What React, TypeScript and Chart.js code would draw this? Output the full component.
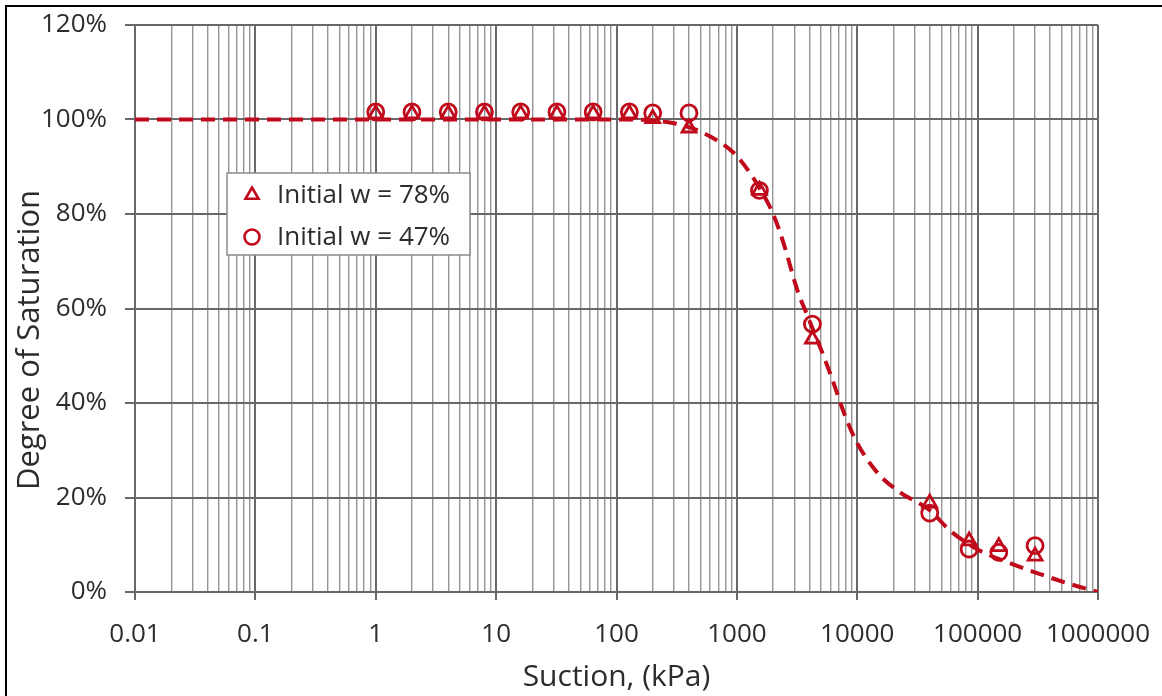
import React, { useEffect, useRef } from 'react';
import { Chart, registerables } from 'chart.js';

Chart.register(...registerables);

// ---- Data ----
const suctionKPa = [1, 2, 4, 8, 16, 32, 64, 128, 200, 400, 1540, 4240, 40000, 85000, 150000, 300000];
const saturationW78 = [101.2, 101.2, 101.2, 101.2, 101.2, 101.2, 101.2, 101.2, 100.2, 98.2, 85, 53.5, 18.8, 10.8, 9.6, 7.6];
const saturationW47 = [101.6, 101.6, 101.6, 101.6, 101.6, 101.6, 101.6, 101.6, 101.4, 101.4, 85, 56.7, 16.7, 9.1, 8.4, 9.8];

const fitSuction = [0.01, 1, 100, 200, 400, 600, 935, 1220, 1540, 2000, 2430, 3170, 3920, 5240, 6200, 8000, 10000, 15000, 23000, 40000, 59000, 100000, 190000, 330000, 550000, 1000000];
const fitSaturation = [100, 100, 100, 99.8, 98.4, 96.4, 93, 89.5, 85.5, 80, 74, 64, 58, 50, 45, 37, 31.5, 25, 21, 17.3, 13, 9, 6, 3.8, 1.9, 0];

const xDecadeExponents = [-2, -1, 0, 1, 2, 3, 4, 5];
const xMinorMultipliers = [1, 2, 3, 4, 5, 6, 7, 8, 9];
const xMin = 0.01;
const xMax = 1000000;
const yTickValues = [0, 20, 40, 60, 80, 100, 120];

const legendLabels = ['Initial w = 78%', 'Initial w = 47%'];
const xTitle = 'Suction, (kPa)';
const yTitle = 'Degree of Saturation';

// ---- Style ----
const RED = '#c00a1c';
const FONT = "'Open Sans', 'Noto Sans', sans-serif";
const TEXT = '#2c2c2c';
const MAJOR_GRID = '#686868';
const MINOR_GRID = '#959595';

const xTickValues: number[] = [];
for (const e of xDecadeExponents) {
  for (const m of xMinorMultipliers) {
    xTickValues.push(Number((m * Math.pow(10, e)).toPrecision(10)));
  }
}
xTickValues.push(xMax);

function isPow10(v: number): boolean {
  const l = Math.log10(v);
  return Math.abs(l - Math.round(l)) < 1e-9;
}
function fmtX(v: number): string {
  const e = Math.round(Math.log10(v));
  return e < 0 ? v.toFixed(-e) : String(Math.round(v));
}

const legendPlugin = {
  id: 'boxLegend',
  afterDraw(chart: any) {
    const ctx = chart.ctx as CanvasRenderingContext2D;
    const left = 227, top = 173, w = 243, h = 82;
    ctx.save();
    ctx.fillStyle = '#ffffff';
    ctx.fillRect(left, top, w, h);
    ctx.strokeStyle = '#8a8a8a';
    ctx.lineWidth = 1.5;
    ctx.strokeRect(left, top, w, h);
    const rows = [195, 237];
    ctx.font = `26px ${FONT}`;
    ctx.textBaseline = 'middle';
    ctx.textAlign = 'left';
    rows.forEach((ry, i) => {
      ctx.strokeStyle = RED;
      ctx.lineWidth = 2.6;
      const mx = 252;
      ctx.beginPath();
      if (i === 0) {
        const r = 7.5;
        let rad = 0;
        ctx.moveTo(mx + Math.sin(rad) * r, ry - Math.cos(rad) * r);
        rad += (2 * Math.PI) / 3;
        ctx.lineTo(mx + Math.sin(rad) * r, ry - Math.cos(rad) * r);
        rad += (2 * Math.PI) / 3;
        ctx.lineTo(mx + Math.sin(rad) * r, ry - Math.cos(rad) * r);
        ctx.closePath();
      } else {
        ctx.arc(mx, ry, 7.5, 0, Math.PI * 2);
      }
      ctx.stroke();
      ctx.fillStyle = TEXT;
      ctx.fillText(legendLabels[i], 277, ry + 1);
    });
    ctx.restore();
  },
};

const yTitlePlugin = {
  id: 'yTitle',
  afterDraw(chart: any) {
    const ctx = chart.ctx as CanvasRenderingContext2D;
    ctx.save();
    ctx.translate(30, 340);
    ctx.rotate(-Math.PI / 2);
    ctx.font = `31px ${FONT}`;
    ctx.fillStyle = TEXT;
    ctx.textAlign = 'center';
    ctx.textBaseline = 'middle';
    ctx.fillText(yTitle, 0, 0);
    ctx.restore();
  },
};

export default function App() {
  const canvasRef = useRef<HTMLCanvasElement | null>(null);

  useEffect(() => {
    if (!canvasRef.current) return;
    const chart = new Chart(canvasRef.current, {
      type: 'scatter',
      data: {
        datasets: [
          {
            label: legendLabels[0],
            data: suctionKPa.map((s, i) => ({ x: s, y: saturationW78[i] })),
            pointStyle: 'triangle',
            pointRadius: 8,
            pointBorderWidth: 2.8,
            borderColor: RED,
            backgroundColor: 'rgba(0,0,0,0)',
            showLine: false,
          },
          {
            label: legendLabels[1],
            data: suctionKPa.map((s, i) => ({ x: s, y: saturationW47[i] })),
            pointStyle: 'circle',
            pointRadius: 8,
            pointBorderWidth: 2.8,
            borderColor: RED,
            backgroundColor: 'rgba(0,0,0,0)',
            showLine: false,
          },
          {
            label: 'fit',
            data: fitSuction.map((s, i) => ({ x: s, y: fitSaturation[i] })),
            showLine: true,
            pointRadius: 0,
            borderColor: RED,
            backgroundColor: RED,
            borderWidth: 4,
            borderDash: [14, 8],
            cubicInterpolationMode: 'monotone',
            fill: false,
          } as any,
        ],
      },
      options: {
        responsive: false,
        animation: false,
        devicePixelRatio: 1,
        layout: { padding: { top: 25, right: 64, left: 0, bottom: 0 } },
        plugins: { legend: { display: false }, tooltip: { enabled: false } },
        scales: {
          x: {
            type: 'logarithmic',
            min: xMin,
            max: xMax,
            afterBuildTicks: (s: any) => {
              s.ticks = xTickValues.map((v) => ({ value: v, major: isPow10(v) }));
            },
            afterFit: (s: any) => {
              s.height = 104;
              s.paddingLeft = 0;
              s.paddingRight = 0;
            },
            ticks: {
              autoSkip: false,
              maxRotation: 0,
              minRotation: 0,
              padding: 19,
              color: TEXT,
              font: { family: FONT, size: 26 },
              callback: (v: any) => (isPow10(Number(v)) ? fmtX(Number(v)) : ''),
            },
            grid: {
              color: (c: any) => (c.tick && isPow10(c.tick.value) ? MAJOR_GRID : MINOR_GRID),
              lineWidth: (c: any) => (c.tick && isPow10(c.tick.value) ? 2 : 1.4),
              tickLength: 8,
              tickColor: (c: any) => (c.tick && isPow10(c.tick.value) ? MAJOR_GRID : 'rgba(0,0,0,0)'),
            },
            border: { color: MAJOR_GRID, width: 2 },
            title: {
              display: true,
              text: xTitle,
              color: TEXT,
              font: { family: FONT, size: 30 },
              padding: { top: 0, bottom: 1 },
            },
          },
          y: {
            min: 0,
            max: 120,
            afterBuildTicks: (s: any) => {
              s.ticks = yTickValues.map((v) => ({ value: v }));
            },
            afterFit: (s: any) => {
              s.width = 135;
              s.paddingTop = 0;
              s.paddingBottom = 0;
            },
            ticks: {
              padding: 18,
              color: TEXT,
              font: { family: FONT, size: 26 },
              callback: (v: any) => `${v}%`,
            },
            grid: { color: MAJOR_GRID, lineWidth: 2, tickLength: 10, tickColor: MAJOR_GRID },
            border: { color: MAJOR_GRID, width: 2 },
          },
        },
      },
      plugins: [legendPlugin, yTitlePlugin],
    } as any);
    return () => chart.destroy();
  }, []);

  return (
    <div style={{ position: 'absolute', left: 0, top: 0, width: 1162, height: 696, overflow: 'hidden', background: '#fff' }}>
      <div style={{ position: 'absolute', left: 5, top: 5, width: 1300, height: 900, borderLeft: '2px solid #000', borderTop: '2px solid #000' }} />
      <canvas ref={canvasRef} width={1162} height={696} style={{ position: 'absolute', left: 0, top: 0, width: 1162, height: 696 }} />
    </div>
  );
}
